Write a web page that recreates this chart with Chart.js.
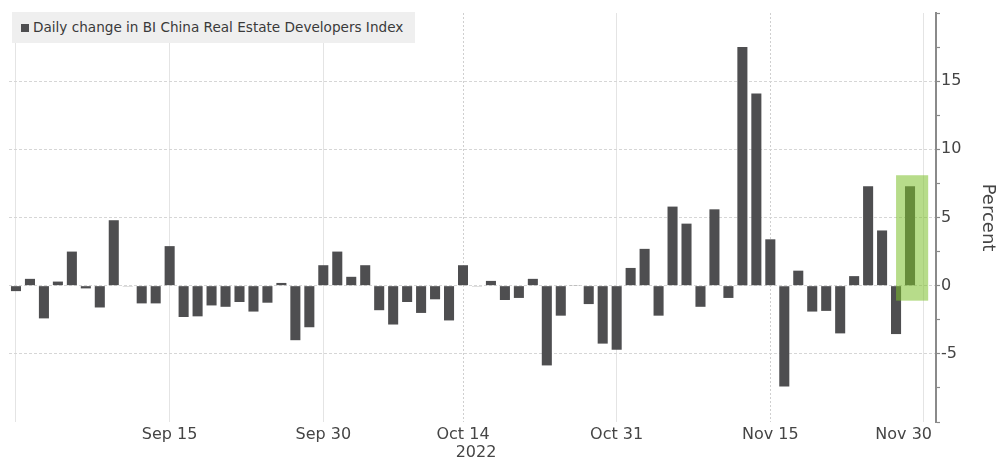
<!DOCTYPE html>
<html>
<head>
<meta charset="utf-8">
<script src="https://cdn.jsdelivr.net/npm/chart.js@4.4.1/dist/chart.umd.min.js"></script>
<style>
  html, body { margin: 0; padding: 0; background: #ffffff; }
  #wrap { position: relative; width: 1002px; height: 459px; }
  #chart { position: absolute; left: 0; top: 0; }
  #legend {
    position: absolute; left: 12px; top: 12px; width: 403px; height: 31px;
    background: #efefef; box-sizing: border-box;
    font-family: "DejaVu Sans", sans-serif; font-size: 13.6px; color: #3a3a3a;
    line-height: 31px; padding-left: 9px; white-space: nowrap;
  }
  #legend .swatch {
    display: inline-block; width: 8px; height: 8px; background: #4e4e50;
    margin-right: 4px; vertical-align: 0px;
  }
</style>
</head>
<body>
<div id="wrap">
  <canvas id="chart" width="1002" height="459"></canvas>
  <div id="legend"><span class="swatch"></span>Daily change in BI China Real Estate Developers Index</div>
</div>
<script>
// Trading days (weekdays) shown on the axis, 2022
const dates = [
  'Aug 31',
  'Sep 1', 'Sep 2', 'Sep 5', 'Sep 6', 'Sep 7', 'Sep 8', 'Sep 9',
  'Sep 12', 'Sep 13', 'Sep 14', 'Sep 15', 'Sep 16',
  'Sep 19', 'Sep 20', 'Sep 21', 'Sep 22', 'Sep 23',
  'Sep 26', 'Sep 27', 'Sep 28', 'Sep 29', 'Sep 30',
  'Oct 3', 'Oct 4', 'Oct 5', 'Oct 6', 'Oct 7',
  'Oct 10', 'Oct 11', 'Oct 12', 'Oct 13', 'Oct 14',
  'Oct 17', 'Oct 18', 'Oct 19', 'Oct 20', 'Oct 21',
  'Oct 24', 'Oct 25', 'Oct 26', 'Oct 27', 'Oct 28',
  'Oct 31', 'Nov 1', 'Nov 2', 'Nov 3', 'Nov 4',
  'Nov 7', 'Nov 8', 'Nov 9', 'Nov 10', 'Nov 11',
  'Nov 14', 'Nov 15', 'Nov 16', 'Nov 17', 'Nov 18',
  'Nov 21', 'Nov 22', 'Nov 23', 'Nov 24', 'Nov 25',
  'Nov 28', 'Nov 29', 'Nov 30'
];

// Daily % change of the index
const dailyChange = [
  -0.4,
  0.5, -2.4, 0.3, 2.5, -0.2, -1.6, 4.8,
  -0.05, -1.3, -1.3, 2.9, -2.3,
  -2.25, -1.45, -1.55, -1.2, -1.9,
  -1.25, 0.2, -4.0, -3.05, 1.5,
  2.5, 0.65, 1.5, -1.8, -2.85,
  -1.2, -2.0, -1.0, -2.55, 1.5,
  -0.05, 0.35, -1.05, -0.9, 0.5,
  -5.85, -2.2, 0.05, -1.35, -4.25,
  -4.7, 1.3, 2.7, -2.2, 5.8,
  4.55, -1.55, 5.6, -0.9, 17.5,
  14.1, 3.4, -7.4, 1.1, -1.9,
  -1.85, -3.5, 0.7, 7.3, 4.05,
  -3.55, 7.3, null
];

// Dates that carry a grid line (first one unlabelled) and their labels
const tickDates = ['Aug 31', 'Sep 15', 'Sep 30', 'Oct 14', 'Oct 31', 'Nov 15', 'Nov 30'];
const tickLabels = ['', 'Sep 15', 'Sep 30', 'Oct 14', 'Oct 31', 'Nov 15', 'Nov 30'];
const dottedDates = ['Oct 14', 'Nov 15'];
const yearLabel = '2022';
const yearUnder = 'Oct 14';

// Percent axis
const yMin = -10;
const yMax = 20;
const yStep = 2.5;
const yLabelled = [-5, 0, 5, 10, 15];

// Highlighted latest session
const highlightDate = 'Nov 29';
const highlightLow = -1.1;
const highlightHigh = 8.1;

const points = dates.map((d, i) => ({ x: i, y: dailyChange[i] }));
const tickIdx = tickDates.map(d => dates.indexOf(d));
const dottedIdx = dottedDates.map(d => dates.indexOf(d));

const FONT = '"DejaVu Sans", sans-serif';
const TEXT = '#454545';

const dateLabels = {
  id: 'dateLabels',
  afterDraw(chart) {
    const { ctx, chartArea, scales } = chart;
    const x = scales.x;
    ctx.save();
    ctx.font = '16px ' + FONT;
    ctx.fillStyle = TEXT;
    ctx.textBaseline = 'alphabetic';
    tickIdx.forEach((idx, k) => {
      const label = tickLabels[k];
      if (!label) return;
      let px = x.getPixelForValue(idx);
      const w = ctx.measureText(label).width;
      if (px + w / 2 > chartArea.right - 4) px = chartArea.right - 4 - w / 2;
      ctx.textAlign = 'center';
      ctx.fillText(label, px, chartArea.bottom + 17);
    });
    const yx = x.getPixelForValue(dates.indexOf(yearUnder)) + 13;
    ctx.textAlign = 'center';
    ctx.fillText(yearLabel, yx, chartArea.bottom + 35);
    ctx.restore();
  }
};

const highlightBox = {
  id: 'highlightBox',
  afterDatasetsDraw(chart) {
    const { ctx, scales } = chart;
    const i = dates.indexOf(highlightDate);
    const left = scales.x.getPixelForValue(i - 1.0);
    const right = scales.x.getPixelForValue(i + 1.3);
    const top = scales.y.getPixelForValue(highlightHigh);
    const bottom = scales.y.getPixelForValue(highlightLow);
    ctx.save();
    ctx.fillStyle = 'rgba(124, 191, 42, 0.55)';
    ctx.fillRect(left, top, right - left, bottom - top);
    ctx.restore();
  }
};

new Chart(document.getElementById('chart'), {
  type: 'bar',
  data: {
    datasets: [{
      label: 'Daily change in BI China Real Estate Developers Index',
      data: points,
      backgroundColor: '#4e4e50',
      borderWidth: 0,
      barPercentage: 0.72,
      categoryPercentage: 1.0
    }]
  },
  options: {
    responsive: false,
    animation: false,
    layout: { padding: { left: 9, top: 13, right: 0, bottom: 37 } },
    plugins: {
      legend: { display: false },
      tooltip: { enabled: false }
    },
    scales: {
      x: {
        type: 'linear',
        offset: false,
        min: -0.5,
        max: dates.length - 1 + 0.86,
        afterBuildTicks(scale) {
          scale.ticks = tickIdx.map(v => ({ value: v }));
        },
        ticks: { display: false },
        grid: {
          offset: false,
          color: c => (c.tick && dottedIdx.includes(c.tick.value) ? '#cfcfcf' : '#e4e4e4'),
          lineWidth: 1,
          drawTicks: false
        },
        border: {
          display: false,
          dash: c => (c.tick && dottedIdx.includes(c.tick.value) ? [2, 2] : [])
        }
      },
      y: {
        position: 'right',
        min: yMin,
        max: yMax,
        afterFit(scale) {
          scale.width = 66;
          scale.paddingTop = 0;
          scale.paddingBottom = 0;
        },
        ticks: {
          stepSize: yStep,
          autoSkip: false,
          padding: 1,
          color: TEXT,
          font: { family: FONT, size: 16 },
          callback: v => (yLabelled.includes(v) ? String(v) : '')
        },
        grid: {
          color: c => (yLabelled.includes(c.tick.value) ? '#d6d6d6' : 'rgba(0,0,0,0)'),
          tickColor: '#8a8a8a',
          tickLength: 4,
          tickWidth: 1.2,
          lineWidth: 1
        },
        border: { color: '#8a8a8a', width: 2, dash: [3, 2] },
        title: {
          display: true,
          text: 'Percent',
          color: TEXT,
          font: { family: FONT, size: 18 },
          padding: { top: 4, bottom: 4 }
        }
      }
    }
  },
  plugins: [highlightBox, dateLabels]
});
</script>
</body>
</html>
